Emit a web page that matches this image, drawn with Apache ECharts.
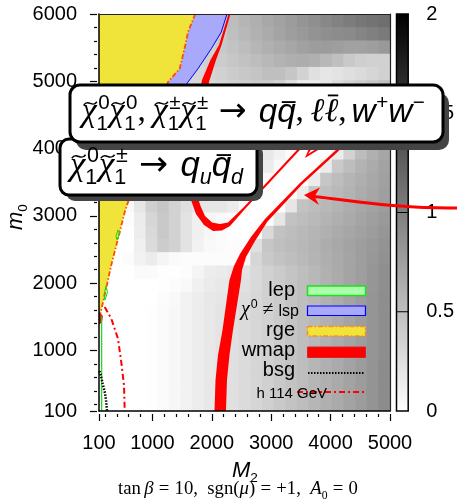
<!DOCTYPE html>
<html><head><meta charset="utf-8">
<script src="https://cdn.jsdelivr.net/npm/echarts@6/dist/echarts.min.js"></script>
<style>html,body{margin:0;padding:0;background:#fff}#c{width:457px;height:502px}</style>
</head><body><div id="c"></div>
<script>
// ---------------- data ----------------
const xLabelValues = [100, 1000, 2000, 3000, 4000, 5000];
const yLabelValues = [100, 1000, 2000, 3000, 4000, 5000, 6000];
const xMinorTicks = [200,400,600,800,1200,1400,1600,1800,2200,2400,2600,2800,3200,3400,3600,3800,4200,4400,4600,4800];
const yMinorTicks = [200,400,600,800,1200,1400,1600,1800,2200,2400,2600,2800,3200,3400,3600,3800,4200,4400,4600,4800,5200,5400,5600,5800];
const cbTicks = [0, 0.5, 1, 1.5, 2];
const cbInnerTicks = [0.5, 1, 1.5];

// shade (0..2) on a 25 x 30 grid, M2 100..5000, m0 100..6000; first row = top
const shadeRows = [
 [.3,.3,.3,.3,.3,.3,.3,.3,.3,.35,.45,.52,.58,.63,.68,.73,.78,.83,.88,.93,.98,1.03,1.07,1.1,1.13],
 [.3,.3,.3,.3,.3,.3,.3,.3,.3,.35,.44,.5,.56,.61,.66,.71,.76,.8,.85,.88,.9,.92,.96,1,1.04],
 [.3,.3,.3,.3,.3,.3,.3,.3,.3,.36,.42,.47,.52,.57,.62,.66,.7,.74,.77,.78,.76,.74,.74,.76,.8],
 [.3,.3,.3,.3,.3,.3,.3,.3,.32,.38,.4,.44,.48,.52,.56,.6,.63,.64,.62,.56,.5,.42,.38,.36,.36],
 [.3,.3,.3,.3,.3,.3,.3,.3,.32,.34,.36,.4,.43,.46,.5,.5,.45,.35,.24,.2,.22,.25,.28,.32,.36],
 [.3,.3,.3,.3,.3,.3,.3,.3,.3,.3,.32,.35,.38,.4,.4,.35,.25,.15,.15,.2,.28,.35,.4,.45,.5],
 [.2,.2,.2,.2,.2,.2,.2,.2,.2,.3,.32,.35,.38,.42,.45,.45,.4,.35,.3,.25,.2,.15,.1,.05,.1],
 [.2,.2,.2,.2,.2,.2,.2,.2,.2,.28,.3,.33,.36,.38,.4,.4,.38,.35,.3,.25,.15,.08,.03,.1,.25],
 [.2,.2,.2,.2,.2,.2,.2,.2,.2,.25,.27,.28,.3,.3,.32,.32,.3,.25,.2,.12,.05,.02,.1,.25,.4],
 [.2,.2,.2,.2,.2,.2,.2,.2,.2,.22,.24,.25,.25,.25,.25,.25,.22,.18,.1,.04,.02,.1,.28,.45,.58],
 [.2,.2,.2,.2,.2,.2,.2,.2,.2,.2,.2,.2,.2,.2,.18,.1,.03,0,0,.02,.15,.35,.52,.62,.7],
 [.2,.2,.2,.2,.2,.2,.2,.2,.2,.2,.2,.2,.2,.2,.15,.05,.01,0,.02,.15,.42,.52,.6,.66,.72],
 [.2,.2,.2,.2,.2,.2,.2,.2,.2,.2,.2,.2,.2,.15,.05,0,0,.02,.15,.45,.52,.58,.63,.68,.74],
 [.2,.2,.2,.2,.2,.2,.2,.2,.2,.2,.2,.2,.18,.08,.02,0,.02,.15,.45,.5,.55,.6,.65,.7,.75],
 [0,0,.05,.2,.38,.45,.35,.25,.2,.2,.2,.15,.05,0,0,.02,.2,.48,.52,.56,.6,.64,.68,.72,.77],
 [0,0,.02,.15,.32,.42,.35,.22,.12,.08,.05,.02,0,0,.02,.2,.48,.52,.55,.59,.63,.67,.71,.75,.8],
 [0,0,0,.14,.3,.42,.35,.22,.12,.06,.03,.01,0,.03,.3,.48,.52,.55,.58,.62,.66,.7,.74,.78,.82],
 [0,0,0,.12,.28,.4,.35,.22,.1,.05,.03,.02,.03,.25,.45,.5,.53,.56,.6,.64,.68,.72,.76,.8,.85],
 [0,0,.02,.1,.15,.08,.04,.02,.02,.02,.02,.02,.05,.32,.42,.47,.51,.55,.59,.63,.67,.71,.76,.81,.86],
 [0,0,0,.04,.03,.01,.01,.02,.08,.14,.16,.18,.22,.3,.36,.41,.46,.51,.56,.61,.66,.71,.76,.82,.88],
 [0,0,0,0,0,.01,.02,.05,.12,.16,.18,.2,.24,.3,.36,.41,.46,.51,.56,.61,.66,.71,.76,.82,.88],
 [0,0,0,0,0,.02,.05,.1,.14,.18,.2,.23,.27,.31,.36,.41,.46,.51,.56,.61,.66,.71,.77,.83,.89],
 [0,0,0,0,.01,.03,.06,.1,.14,.18,.21,.24,.28,.32,.36,.41,.46,.51,.56,.61,.66,.71,.77,.83,.89],
 [0,0,0,0,.01,.03,.06,.1,.14,.18,.21,.24,.28,.32,.36,.41,.46,.51,.56,.61,.66,.71,.77,.83,.89],
 [0,0,0,0,.01,.03,.06,.1,.14,.18,.21,.24,.28,.32,.36,.41,.46,.51,.56,.61,.66,.71,.77,.83,.89],
 [0,0,0,0,.01,.03,.06,.1,.14,.18,.21,.24,.28,.32,.36,.41,.46,.51,.56,.61,.66,.71,.77,.83,.89],
 [0,0,0,0,.01,.03,.06,.1,.14,.18,.21,.24,.28,.32,.37,.42,.47,.52,.57,.62,.67,.72,.78,.84,.9],
 [0,0,0,0,.01,.03,.06,.1,.14,.18,.21,.24,.28,.32,.37,.42,.47,.52,.57,.62,.67,.72,.78,.84,.9],
 [0,0,0,0,.01,.03,.06,.1,.14,.18,.21,.24,.28,.32,.37,.42,.47,.52,.57,.62,.67,.72,.78,.84,.9],
 [0,0,0,0,.01,.03,.06,.1,.14,.18,.21,.24,.28,.32,.37,.42,.47,.52,.57,.62,.67,.72,.78,.84,.9]
];

// region boundaries [M2, m0]
const rgeEdge = [[1720,6000],[1599,5732],[1553,5535],[1459,5187],[1262,4989],[533,3057],[420,2661],[307,2270],[196,1824],[129,1571],[100,1452]];
const blueEdge = [[2255,6000],[2159,5732],[1991,5484],[1767,5187],[1599,4989],[1200,4500],[1040,4400]];
const wmapUpper = [[2281,6000],[2121,5539],[1977,5316],[1834,5019],[1683,4276],[1615,3607],[1649,3236],[1733,3028],[1868,2864],[2020,2775],[2171,2782],[2306,2849],[2558,3102],[3434,3934],[4007,4454],[4512,4930],
  [4486,4952],[3981,4477],[3409,3956],[2533,3124],[2272,2901],[2137,2879],[2003,2901],[1885,2998],[1809,3147],[1767,3265],[1750,3607],[1801,4276],[1952,4989],[2070,5316],[2163,5539],[2314,6000]];
const wmapMain = [[2045,100],[2062,561],[2104,932],[2180,1304],[2238,1675],[2297,2047],[2373,2255],[2474,2434],[2659,2686],[2895,2953],[3484,3488],[4091,3979],[4697,4543],
  [4727,4517],[4121,3952],[3515,3462],[2937,2916],[2727,2626],[2575,2389],[2508,2195],[2491,2047],[2424,1675],[2356,1304],[2297,932],[2255,561],[2238,100]];
const wmapTip = [[3569,3860],[3872,4023],[3813,4023],[3619,3919],[3712,4038],[3653,4038]];
const wmapSpot = [[100,1571],[167,1512],[151,1423],[100,1378]];
const lepLine = [[145,100],[145,1512]];
const lepLoopA = [[201,1750],[243,1868],[218,1958],[184,1824],[201,1750]];
const lepLoopB = [[403,2641],[454,2745],[420,2790],[386,2701],[403,2641]];
const bsgLine = [[108,694],[134,620],[167,486],[201,367],[218,263],[235,100]];
const higgsLine = [[196,1646],[307,1472],[420,1174],[475,828],[521,482],[533,100]];

// ---------------- helpers ----------------
const M2_MIN = 100, M2_MAX = 5000, M0_MIN = 100, M0_MAX = 6000;
const NX = shadeRows[0].length, NY = shadeRows.length;
const DX = (M2_MAX - M2_MIN) / NX, DY = (M0_MAX - M0_MIN) / NY;
const cells = [];
shadeRows.forEach((row, k) => {
  const j = NY - 1 - k;
  row.forEach((v, i) => cells.push([M2_MIN + i * DX, M0_MIN + j * DY, v]));
});

function polySeries(pts, fill, z) {
  return {type: 'custom', xAxisIndex: 0, yAxisIndex: 0, data: pts, clip: true, silent: true, z: z,
    renderItem: function (params, api) {
      if (params.dataIndex !== 0) return null;
      return {type: 'polygon', shape: {points: pts.map(p => api.coord(p))}, style: {fill: fill}};
    }};
}
function lineSeries(pts, color, width, type, z) {
  return {type: 'line', xAxisIndex: 0, yAxisIndex: 0, data: pts, symbol: 'none', showSymbol: false,
    silent: true, clip: true, z: z, lineStyle: {color: color, width: width, type: type}};
}

const mctx = document.createElement('canvas').getContext('2d');
const FONTS = {
  chi: {fam: '"Liberation Serif"', st: 'italic'},
  si: {fam: '"Liberation Sans"', st: 'italic'},
  rm: {fam: '"Liberation Sans"', st: 'normal'},
  srm: {fam: '"Liberation Serif"', st: 'normal'},
  sym: {fam: '"DejaVu Sans"', st: 'normal'}
};
function fstr(k, s) { const f = FONTS[k]; return f.st + ' ' + s.toFixed(2) + 'px ' + f.fam; }
function mw(t, k, s) { mctx.font = fstr(k, s); return mctx.measureText(t).width; }
function layoutMath(atoms, size) {
  let x = 0; const items = [];
  for (const a of atoms) {
    x += (a.pre || 0) * size;
    const k = a.f || 'rm'; const s = size * (a.fs || 1);
    const w = mw(a.t, k, s);
    items.push({kind: 't', t: a.t, k: k, s: s, x: x, dy: 0});
    if (a.acc) items.push({kind: a.acc, x: x, w: w, s: size, ah: a.ah, ax: a.ax || 0});
    const ss = size * 0.62; let ext = 0;
    const kx = a.f === 'chi' ? 0.05 * size : 0.02 * size;
    if (a.sup != null) { const k2 = a.supf || 'rm'; const w2 = mw(a.sup, k2, ss);
      items.push({kind: 't', t: a.sup, k: k2, s: ss, x: x + w + kx, dy: -0.42 * size}); ext = Math.max(ext, w2 + kx); }
    if (a.sub != null) { const k2 = a.subf || 'rm'; const w2 = mw(a.sub, k2, ss);
      items.push({kind: 't', t: a.sub, k: k2, s: ss, x: x + w, dy: 0.22 * size}); ext = Math.max(ext, w2); }
    x += w + ext + (a.post || 0) * size;
  }
  return {items: items, width: x};
}
function mathEls(atoms, size, x0, base, align, fitW, z) {
  let L = layoutMath(atoms, size);
  if (fitW) { size = size * fitW / L.width; L = layoutMath(atoms, size); }
  const ox = align === 'right' ? x0 - L.width : align === 'center' ? x0 - L.width / 2 : x0;
  const els = [];
  for (const it of L.items) {
    if (it.kind === 't') {
      els.push({type: 'text', z: z, x: ox + it.x, y: base + it.dy - 0.345 * it.s,
        style: {text: it.t, font: fstr(it.k, it.s), fill: '#000', align: 'left', textAlign: 'left', verticalAlign: 'middle', textVerticalAlign: 'middle'}});
    } else if (it.kind === 'tilde') {
      const xl = ox + it.x + it.w * 0.12 + it.ax * it.s, xr = ox + it.x + it.w * 1.02 + it.ax * it.s;
      const yc = base - (it.ah || 0.62) * it.s, a = 0.05 * it.s;
      els.push({type: 'bezierCurve', z: z, shape: {x1: xl, y1: yc + a, x2: xr, y2: yc - a,
        cpx1: xl + (xr - xl) / 3, cpy1: yc - 3 * a, cpx2: xl + 2 * (xr - xl) / 3, cpy2: yc + 3 * a},
        style: {stroke: '#000', lineWidth: Math.max(1, it.s * 0.045), fill: null}});
    } else if (it.kind === 'bar') {
      const yb = base - (it.ah || 0.68) * it.s;
      els.push({type: 'line', z: z, shape: {x1: ox + it.x + it.w * 0.25 + it.ax * it.s, y1: yb, x2: ox + it.x + it.w * 1.0 + it.ax * it.s, y2: yb},
        style: {stroke: '#000', lineWidth: Math.max(1, it.s * 0.055)}});
    }
  }
  return els;
}

// ---------------- graphic annotations ----------------
const G = [];
// small box
G.push({type: 'rect', z: 100, shape: {x: 66, y: 145, width: 197, height: 56, r: 9}, style: {fill: '#444'}});
G.push({type: 'rect', z: 101, shape: {x: 60, y: 139, width: 197, height: 56, r: 9}, style: {fill: '#fff', stroke: '#000', lineWidth: 3}});
// big box
G.push({type: 'rect', z: 102, shape: {x: 76, y: 93, width: 373, height: 57, r: 10}, style: {fill: '#444'}});
G.push({type: 'rect', z: 103, shape: {x: 70, y: 85, width: 373, height: 57, r: 10}, style: {fill: '#fff', stroke: '#000', lineWidth: 3}});

const bigAtoms = [
  {t: 'χ', f: 'chi', acc: 'tilde', sup: '0', sub: '1'},
  {t: 'χ', f: 'chi', acc: 'tilde', sup: '0', sub: '1'},
  {t: ',', f: 'srm', post: 0.22},
  {t: 'χ', f: 'chi', acc: 'tilde', sup: '±', sub: '1'},
  {t: 'χ', f: 'chi', acc: 'tilde', sup: '±', sub: '1'},
  {t: '→', f: 'sym', pre: 0.32, post: 0.36},
  {t: 'q', f: 'si'},
  {t: 'q', f: 'si', acc: 'bar', ah: 0.66},
  {t: ',', f: 'srm', post: 0.2},
  {t: 'ℓ', f: 'chi'},
  {t: 'ℓ', f: 'chi', acc: 'bar', ah: 0.86},
  {t: ',', f: 'srm', post: 0.15},
  {t: 'w', f: 'si', sup: '+'},
  {t: 'w', f: 'si', sup: '−'}
];
G.push(...mathEls(bigAtoms, 30, 82, 124, 'left', 343, 110));

const smallAtoms = [
  {t: 'χ', f: 'chi', acc: 'tilde', sup: '0', sub: '1'},
  {t: 'χ', f: 'chi', acc: 'tilde', sup: '±', sub: '1'},
  {t: '→', f: 'sym', pre: 0.32, post: 0.36},
  {t: 'q', f: 'si', sub: 'u', subf: 'si'},
  {t: 'q', f: 'si', acc: 'bar', ah: 0.66, sub: 'd', subf: 'si'}
];
G.push(...mathEls(smallAtoms, 30, 70, 178, 'left', 173, 105));

// arrow
G.push({type: 'bezierCurve', z: 120, shape: {x1: 457, y1: 208, cpx1: 400, cpy1: 209, cpx2: 350, cpy2: 200, x2: 313, y2: 196.5},
  style: {stroke: '#ff0000', lineWidth: 3, fill: null}});
G.push({type: 'polygon', z: 120, shape: {points: [[304, 195], [320, 187.5], [314.5, 196.5], [319, 205]]}, style: {fill: '#ff0000'}});

// legend
const LF = '20px "Liberation Sans"';
function legText(t, y, x, font) {
  return {type: 'text', z: 60, x: x || 295, y: y, style: {text: t, font: font || LF, fill: '#000', align: 'right', textAlign: 'right', verticalAlign: 'middle', textVerticalAlign: 'middle'}};
}
G.push(legText('lep', 290));
G.push({type: 'rect', z: 60, shape: {x: 307.5, y: 286, width: 58, height: 9.5}, style: {fill: '#aaffaa', stroke: '#22dd22', lineWidth: 1.5}});
G.push(...mathEls([{t: 'χ', f: 'chi', sup: '0'}, {t: ' ≠ ', f: 'srm'}, {t: 'lsp', f: 'rm', fs: 0.8}], 20, 299, 317, 'right', null, 60));
G.push({type: 'rect', z: 60, shape: {x: 307.5, y: 306, width: 58, height: 9.5}, style: {fill: '#a9a9fb', stroke: '#0000ff', lineWidth: 1.2}});
G.push(legText('rge', 330));
G.push({type: 'rect', z: 60, shape: {x: 307.5, y: 326.5, width: 58, height: 9.5}, style: {fill: '#f0e43a', stroke: '#ff8c1a', lineWidth: 1.5, lineDash: [5, 2, 1.5, 2]}});
G.push(legText('wmap', 350));
G.push({type: 'rect', z: 60, shape: {x: 307.5, y: 347, width: 58, height: 10.5}, style: {fill: '#ff0000', stroke: '#e02020', lineWidth: 1}});
G.push(legText('bsg', 370));
G.push({type: 'line', z: 60, shape: {x1: 308, y1: 373, x2: 365, y2: 373}, style: {stroke: '#000', lineWidth: 2, lineDash: [1.5, 1.5]}});
G.push({type: 'line', z: 60, shape: {x1: 297, y1: 392, x2: 365, y2: 392}, style: {stroke: '#ff0000', lineWidth: 1.8, lineDash: [6, 3, 2, 3]}});
G.push(legText('h 114 GeV', 394, 327, '15px "Liberation Sans"'));

// axis titles and caption
G.push(...mathEls([{t: 'M', f: 'si', sub: '2'}], 22, 245, 478, 'center', null, 60));
G.push({type: 'group', x: 23, y: 217, rotation: Math.PI / 2, z: 60,
  children: mathEls([{t: 'm', f: 'si', sub: '0'}], 22, 0, 0, 'center', null, 60)});
G.push(...mathEls([
  {t: 'tan', f: 'srm', post: 0.17}, {t: 'β', f: 'chi', post: 0.28}, {t: '=', f: 'srm', post: 0.28}, {t: '10,', f: 'srm', post: 0.5},
  {t: 'sgn(', f: 'srm'}, {t: 'μ', f: 'chi'}, {t: ')', f: 'srm', post: 0.28}, {t: '=', f: 'srm', post: 0.28}, {t: '+1,', f: 'srm', post: 0.5},
  {t: 'A', f: 'chi', sub: '0', subf: 'srm', post: 0.28}, {t: '=', f: 'srm', post: 0.28}, {t: '0', f: 'srm'}
], 15, 238, 496, 'center', 240, 60));

// ---------------- chart ----------------
const labelFont = {fontFamily: '"Liberation Sans"', fontSize: 20, color: '#000'};
const plain = v => String(v);
const blk = {color: '#000', width: 1.5};
function tickAxis(pos, min, max, vals, len, offset) {
  return {type: 'value', gridIndex: 0, position: pos, min: min, max: max, offset: offset, z: 10,
    axisLine: {show: false}, axisLabel: {show: false}, splitLine: {show: false},
    axisTick: {show: true, length: len, customValues: vals, lineStyle: {color: '#000', width: 1.2}}};
}
const option = {
  animation: false,
  backgroundColor: '#fff',
  grid: [{left: 99, top: 14, width: 291, height: 397}, {left: 396.5, top: 14, width: 15, height: 397}],
  xAxis: [
    {type: 'value', gridIndex: 0, position: 'bottom', min: M2_MIN, max: M2_MAX, z: 10,
      axisLine: {show: true, onZero: false, lineStyle: blk}, axisTick: {show: false}, splitLine: {show: false},
      axisLabel: Object.assign({margin: 22, customValues: xLabelValues, formatter: plain}, labelFont)},
    tickAxis('bottom', M2_MIN, M2_MAX, xLabelValues, 7, 3),
    tickAxis('bottom', M2_MIN, M2_MAX, xMinorTicks, 3, 3),
    {type: 'value', gridIndex: 0, position: 'top', min: M2_MIN, max: M2_MAX, z: 10,
      axisLine: {show: true, onZero: false, lineStyle: {color: '#222', width: 1.2}}, axisTick: {show: false}, axisLabel: {show: false}, splitLine: {show: false}},
    {type: 'value', gridIndex: 1, min: 0, max: 1, show: false}
  ],
  yAxis: [
    {type: 'value', gridIndex: 0, position: 'left', min: M0_MIN, max: M0_MAX, z: 10,
      axisLine: {show: true, onZero: false, lineStyle: blk}, axisTick: {show: false}, splitLine: {show: false},
      axisLabel: Object.assign({margin: 22, customValues: yLabelValues, formatter: plain}, labelFont)},
    tickAxis('left', M0_MIN, M0_MAX, yLabelValues, 7, 2),
    tickAxis('left', M0_MIN, M0_MAX, yMinorTicks, 3, 2),
    {type: 'value', gridIndex: 0, position: 'right', min: M0_MIN, max: M0_MAX, z: 10,
      axisLine: {show: true, onZero: false, lineStyle: {color: '#222', width: 1.2}}, axisTick: {show: false}, axisLabel: {show: false}, splitLine: {show: false}},
    {type: 'value', gridIndex: 1, position: 'right', min: 0, max: 2, interval: 0.5, z: 10,
      axisLine: {show: false}, axisTick: {show: false}, splitLine: {show: false},
      axisLabel: Object.assign({margin: 18, customValues: cbTicks, formatter: plain}, labelFont)}
  ],
  series: [
    {type: 'custom', xAxisIndex: 0, yAxisIndex: 0, data: cells, clip: true, silent: true, z: 1,
      encode: {x: 0, y: 1},
      renderItem: function (params, api) {
        const x0 = api.value(0), y0 = api.value(1), v = api.value(2);
        const p0 = api.coord([x0, y0]), p1 = api.coord([x0 + DX, y0 + DY]);
        const g = Math.round(255 * (1 - v / 2));
        return {type: 'rect', shape: {x: p0[0], y: p1[1], width: p1[0] - p0[0] + 0.7, height: p0[1] - p1[1] + 0.7},
          style: {fill: 'rgb(' + g + ',' + g + ',' + g + ')'}};
      }},
    polySeries(rgeEdge.concat([[100, 6000]]), '#f0e43a', 2),
    polySeries(blueEdge.concat(rgeEdge.slice(0, 5).reverse()), '#a9a9fb', 2),
    lineSeries(blueEdge.slice(0, 6), '#0000ff', 1, 'solid', 3),
    lineSeries(rgeEdge, '#ff4d00', 1.8, [5, 2, 1.5, 2], 3),
    polySeries(wmapUpper, '#ff0000', 4),
    polySeries(wmapMain, '#ff0000', 4),
    polySeries(wmapTip, '#ff0000', 4),
    polySeries(wmapSpot, '#ee1111', 4),
    lineSeries(lepLine, '#11dd11', 1.2, 'solid', 5),
    lineSeries(lepLoopA, '#11dd11', 1, 'solid', 5),
    lineSeries(lepLoopB, '#11dd11', 1, 'solid', 5),
    lineSeries(bsgLine, '#000', 2.5, [1.5, 1.5], 5),
    lineSeries(higgsLine, '#ff0000', 2, [6, 3, 2, 3], 5),
    {type: 'custom', xAxisIndex: 4, yAxisIndex: 4, data: [[0, 0]], silent: true, z: 5,
      renderItem: function (params, api) {
        const p0 = api.coord([0, 0]), p1 = api.coord([1, 2]);
        const children = [{type: 'rect', shape: {x: p0[0], y: p1[1], width: p1[0] - p0[0], height: p0[1] - p1[1]},
          style: {fill: {type: 'linear', x: 0, y: 0, x2: 0, y2: 1, colorStops: [{offset: 0, color: '#000'}, {offset: 1, color: '#fff'}]},
            stroke: '#000', lineWidth: 1.5}}];
        cbInnerTicks.forEach(t => {
          const q = api.coord([0, t]);
          children.push({type: 'line', shape: {x1: p0[0], y1: q[1], x2: p1[0], y2: q[1]}, style: {stroke: '#000', lineWidth: 1}});
        });
        return {type: 'group', children: children};
      }}
  ],
  graphic: {elements: G}
};
const chart = echarts.init(document.getElementById('c'), null, {renderer: 'canvas'});
chart.setOption(option);
</script>
</body></html>
